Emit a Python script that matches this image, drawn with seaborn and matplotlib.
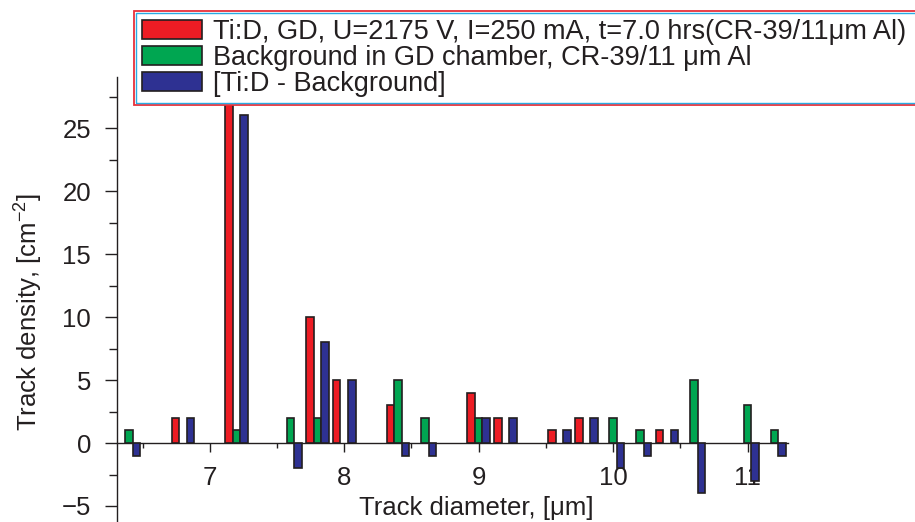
import numpy as np
import pandas as pd
import matplotlib
matplotlib.use("Agg")
import matplotlib.pyplot as plt
from matplotlib.ticker import MultipleLocator
from matplotlib.patches import Rectangle
import seaborn as sns

# track diameter bins, um
diameter = [6.4, 6.6, 6.8, 7.0, 7.2, 7.4, 7.6, 7.8, 8.0, 8.2, 8.4, 8.6, 8.8,
            9.0, 9.2, 9.4, 9.6, 9.8, 10.0, 10.2, 10.4, 10.6, 10.8, 11.0, 11.2]
# track densities, cm^-2
tid = [0, 0, 2, 0, 27, 0, 0, 10, 5, 0, 3, 0, 0,
       4, 2, 0, 1, 2, 0, 0, 1, 0, 0, 0, 0]
background = [1, 0, 0, 0, 1, 0, 2, 2, 0, 0, 5, 2, 0,
              2, 0, 0, 0, 0, 2, 1, 0, 5, 0, 3, 1]
difference = [-1, 0, 2, 0, 26, 0, -2, 8, 5, 0, -1, -1, 0,
              2, 2, 0, 1, 2, -2, -1, 1, -4, 0, -3, -1]

labels = ["Ti:D, GD, U=2175 V, I=250 mA, t=7.0 hrs(CR-39/11\u03bcm Al)",
          "Background in GD chamber, CR-39/11 \u03bcm Al",
          "[Ti:D - Background]"]
colors = ["#ED1C24", "#00A651", "#2E3192"]

df = pd.concat([
    pd.DataFrame({"d": diameter, "density": vals, "series": lab})
    for vals, lab in zip([tid, background, difference], labels)
], ignore_index=True)
df_nz = df[df["density"] != 0]

sns.set_style("ticks")
plt.rcParams["font.family"] = ["Liberation Sans", "DejaVu Sans"]
plt.rcParams["mathtext.fontset"] = "custom"
plt.rcParams["mathtext.rm"] = "Liberation Sans"
plt.rcParams["mathtext.it"] = "Liberation Sans:italic"

fig = plt.figure(figsize=(9.15, 5.22), dpi=100)
ax = fig.add_axes([117 / 915, 0, (788 - 117) / 915, (522 - 77) / 522])

sns.barplot(data=df_nz, x="d", y="density", hue="series", hue_order=labels,
            palette=colors, native_scale=True, width=0.84, dodge=True,
            edgecolor="#231F20", linewidth=1.2, saturation=1,
            errorbar=None, ax=ax, zorder=3)

ax.set_xlim(6.31, 11.3)
ax.set_ylim(-6.27, 29.05)

for s in ["top", "right"]:
    ax.spines[s].set_visible(False)
ax.spines["bottom"].set_position(("data", 0))
ax.spines["left"].set_color("#231F20")
ax.spines["bottom"].set_color("#231F20")
ax.spines["left"].set_linewidth(1.0)
ax.spines["bottom"].set_linewidth(1.0)

ax.xaxis.set_major_locator(MultipleLocator(1))
ax.xaxis.set_minor_locator(MultipleLocator(0.5))
ax.yaxis.set_major_locator(MultipleLocator(5))
ax.yaxis.set_minor_locator(MultipleLocator(2.5))
ax.tick_params(axis="x", which="major", length=6.5, width=1.0, pad=10,
               labelsize=18.5, color="#231F20", labelcolor="#231F20")
ax.tick_params(axis="x", which="minor", length=3.6, width=1.0, color="#231F20")
ax.tick_params(axis="y", which="major", length=8.6, width=1.0, pad=10,
               labelsize=18.5, color="#231F20", labelcolor="#231F20")
ax.tick_params(axis="y", which="minor", length=5.8, width=1.0, color="#231F20")
ax.set_yticks([-5, 0, 5, 10, 15, 20, 25])

ax.set_xlabel("Track diameter, [\u03bcm]", fontsize=18.5, color="#231F20")
ax.xaxis.set_label_coords(0.536, 0.058)
ax.set_ylabel("Track density, [cm$^{-2}$]", fontsize=18.5, color="#231F20")
ax.yaxis.set_label_coords(-0.108, 0.472)

handles, _ = ax.get_legend_handles_labels()
if ax.legend_ is not None:
    ax.legend_.remove()
leg = fig.legend(handles, labels, loc="upper left",
                 bbox_to_anchor=(134 / 915, 1 - 11 / 522), borderaxespad=0,
                 fontsize=19.5, frameon=True, fancybox=False, framealpha=0,
                 handlelength=2.2, handleheight=0.7,
                 handletextpad=0.4, labelspacing=0.0, borderpad=0.3)
leg.get_frame().set_visible(False)
for t in leg.get_texts():
    t.set_color("#231F20")
leg.set_zorder(10)

# legend box runs off the right edge, red outer line with a cyan inner line
fig.canvas.draw()
bb = leg.get_window_extent()
fig.patches.append(Rectangle((bb.x0, bb.y0), 940 - bb.x0, bb.height,
                             transform=None, facecolor="white",
                             edgecolor="#E8303A", linewidth=1.3, zorder=8))
fig.patches.append(Rectangle((bb.x0 + 2, bb.y0 + 2), 940 - bb.x0, bb.height - 4,
                             transform=None, fill=False, edgecolor="#29ABE2",
                             linewidth=1.0, zorder=9))

fig.savefig("out.png", dpi=100)
